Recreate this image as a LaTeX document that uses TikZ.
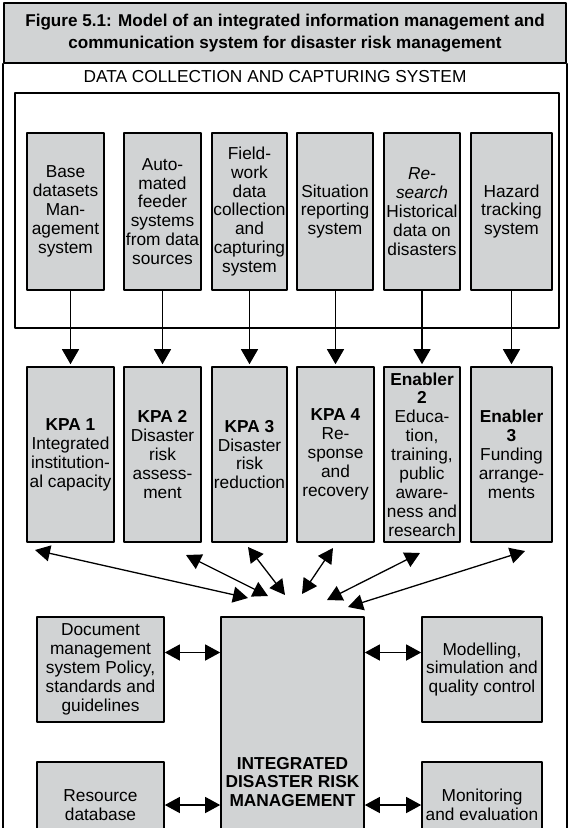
\documentclass[tikz,border=0pt]{standalone}
\usepackage{fontspec}
\setmainfont{Liberation Sans}
\usetikzlibrary{arrows.meta}
\definecolor{boxgray}{RGB}{209,211,212}
\newcommand{\boxfont}{\fontsize{17.3pt}{18.9pt}\selectfont}
\newcommand{\headfont}{\fontsize{17.1pt}{22pt}\selectfont\bfseries}

\begin{document}
\begin{tikzpicture}[x = 1pt, y = -1pt, line cap = round, line join = round,
  box/.style = {draw, line width = 1.6pt, fill = boxgray, align = center,
    inner sep = 0pt, font = \boxfont},
  frame/.style = {line width = 1.6pt},
  arr/.style = {line width = 1.3pt, -{Triangle[length = 15pt, width = 17pt]}},
  darr/.style = {line width = 1.3pt,
    {Triangle[length = 15pt, width = 16pt]}-{Triangle[length = 15pt, width = 16pt]}}]
  \useasboundingbox (0, 0) rectangle (568, 828);
  \clip (0, 0) rectangle (568, 828);

  % heading and outer frame
  \node[box, font = \headfont, minimum width = 562, minimum height = 60]
    (title) at (285, 33) {Figure 5.1: Model of an integrated information management and\\
    communication system for disaster risk management};
  \draw[frame] (title.south west) -- ++(0, 840);
  \draw[frame] (title.south east) -- ++(0, 840);

  \node[font = \boxfont] (dcs) at (275, 77) {DATA COLLECTION AND CAPTURING SYSTEM};
  \draw[frame] (15, 93) rectangle (559, 328);

  % data sources
  \begin{scope}[every node/.style = {box, minimum height = 157}]
    \node[minimum width = 77] (src1) at (65.5, 211.5) {Base\\datasets\\Man-\\agement\\system};
    \node[minimum width = 77] (src2) at (162.5, 211.5) {Auto-\\mated\\feeder\\systems\\from data\\sources};
    \node[minimum width = 75] (src3) at (249.5, 211.5) {Field-\\work\\data\\collection\\and\\capturing\\system};
    \node[minimum width = 76] (src4) at (335, 211.5) {Situation\\reporting\\system};
    \node[minimum width = 76] (src5) at (422, 211.5) {\textit{Re-}\\\textit{search}\\Historical\\data on\\disasters};
    \node[minimum width = 81] (src6) at (511.5, 211.5) {Hazard\\tracking\\system};
  \end{scope}

  % KPAs and enablers
  \begin{scope}[every node/.style = {box, minimum height = 175}]
    \node[minimum width = 87] (kpa1) at (70.5, 454.5) {\textbf{KPA 1}\\Integrated\\institution-\\al capacity};
    \node[minimum width = 77] (kpa2) at (162.5, 454.5) {\textbf{KPA 2}\\Disaster\\risk\\assess-\\ment};
    \node[minimum width = 75] (kpa3) at (249.5, 454.5) {\textbf{KPA 3}\\Disaster\\risk\\reduction};
    \node[minimum width = 77] (kpa4) at (335.5, 454.5) {\textbf{KPA 4}\\Re-\\sponse\\and\\recovery};
    \node[minimum width = 76] (kpa5) at (422, 454.5) {\textbf{Enabler}\\\textbf{2}\\Educa-\\tion,\\training,\\public\\aware-\\ness and\\research};
    \node[minimum width = 81] (kpa6) at (511.5, 454.5) {\textbf{Enabler}\\\textbf{3}\\Funding\\arrange-\\ments};
  \end{scope}

  \foreach \i in {1, ..., 6}
    \draw[arr, shorten > = 2pt] (kpa\i.north |- src\i.south) -- (kpa\i.north);

  % lower part
  \node[box, minimum width = 143, minimum height = 330] (hub) at (292.5, 782)
    {\textbf{INTEGRATED}\\\textbf{DISASTER RISK}\\\textbf{MANAGEMENT}};
  \node[box, minimum width = 127, minimum height = 105] (doc) at (100.5, 669.5)
    {Document\\management\\system Policy,\\standards and\\guidelines};
  \node[box, minimum width = 120, minimum height = 105] (model) at (482, 669.5)
    {Modelling,\\simulation and\\quality control};
  \node[box, minimum width = 127, minimum height = 86] (res) at (100.5, 805)
    {Resource\\database};
  \node[box, minimum width = 120, minimum height = 86] (mon) at (482, 805)
    {Monitoring\\and evaluation};

  \draw[darr] ([yshift = 17pt]doc.east) -- ([yshift = 17pt]doc.east -| hub.west);
  \draw[darr] ([yshift = 17pt]model.west) -- ([yshift = 17pt]model.west -| hub.east);
  \draw[darr] (res.east) -- (res.east -| hub.west);
  \draw[darr] (mon.west) -- (mon.west -| hub.east);

  % links between the areas and the hub
  \coordinate (k1) at (35, 550);  \coordinate (h1) at (248, 598);
  \coordinate (k2) at (186, 555); \coordinate (h2) at (268, 596);
  \coordinate (k3) at (248, 547); \coordinate (h3) at (285, 595);
  \coordinate (k4) at (333, 548); \coordinate (h4) at (302, 594);
  \coordinate (k5) at (420, 553); \coordinate (h5) at (327, 600);
  \coordinate (k6) at (525, 551); \coordinate (h6) at (348, 607);
  \foreach \i in {1, ..., 6}
    \draw[darr] (k\i) -- (h\i);
\end{tikzpicture}
\end{document}
